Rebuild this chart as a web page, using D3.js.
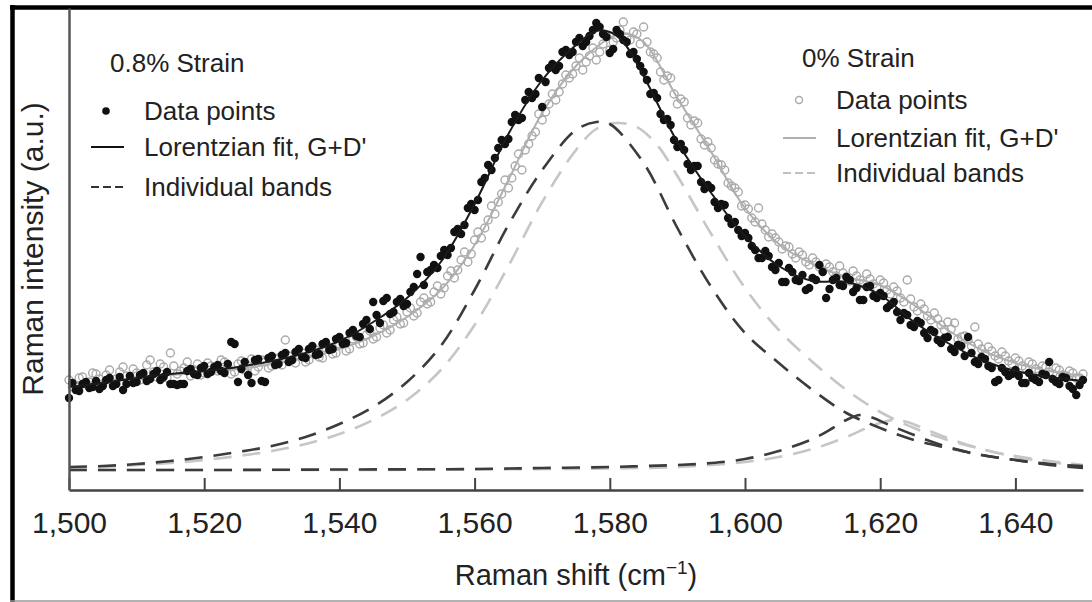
<!DOCTYPE html>
<html><head><meta charset="utf-8">
<script src="https://cdn.jsdelivr.net/npm/d3@7"></script>
<style>
body{margin:0;background:#fff}
svg{display:block}
text{font-family:"Liberation Sans",Arial,Helvetica,sans-serif;fill:#222}
</style>
</head><body>
<svg id="chart" width="1092" height="602"></svg>
<script>
// ---------- data (Raman shift in cm^-1, intensity in a.u.) ----------
const sampleStart = 1500;     // shift of the first data point
const sampleStep = 1;         // spacing of the data points
const halfOffset = 0.5;       // second, interleaved set of data points
const xTicks = [1500, 1520, 1540, 1560, 1580, 1600, 1620, 1640];

// 0.8% strain data points (1500, 1501, ...)
const strainPoints = [72,80,86,82,89,84,92,86,80,94,88,97,91,99,93,86,85,86,101,95,
  104,98,105,97,128,88,108,87,111,88,114,106,117,110,121,112,124,116,128,121,
  133,127,140,133,150,168,147,172,158,171,166,183,213,198,205,214,215,238,236,262,
  260,288,305,312,330,331,355,352,378,376,363,402,400,418,415,428,424,434,447,436,
  417,440,430,416,411,398,376,372,350,345,323,320,300,304,281,282,262,265,246,240,
  237,224,212,219,203,207,188,198,189,180,192,205,172,190,185,193,178,170,183,174,
  177,162,168,150,155,143,147,132,138,127,133,118,124,133,108,113,104,88,102,94,
  100,87,97,90,96,108,88,93,84,75,90];
// 0.8% strain data points (1500.5, 1501.5, ...)
const strainPointsHalf = [87,79,88,83,81,90,84,93,86,87,
  95,89,96,90,98,86,86,99,96,102,
  96,103,99,106,126,101,95,110,89,112,
  105,115,108,118,113,121,115,126,120,131,
  126,137,134,146,141,155,169,156,168,164,
  178,196,185,200,202,220,222,241,245,266,
  270,292,300,322,326,348,350,370,372,392,
  388,406,404,420,418,432,428,440,443,433,
  421,436,428,418,404,390,377,356,351,330,
  326,306,304,288,285,268,266,252,248,234,
  232,220,212,214,200,188,202,190,195,182,
  190,198,181,192,184,190,182,170,184,172,
  174,165,158,157,145,149,137,140,130,132,
  121,125,114,117,106,111,102,90,98,96,
  94,87,92,88,95,91,86,92,81,85];

// 0% strain data points (1500, 1501, ...)
const relaxedPoints = [90,84,93,88,96,86,100,91,103,89,97,94,110,93,103,117,96,102,94,106,
  97,104,99,108,96,106,100,111,103,108,104,112,130,110,115,108,118,113,122,116,
  126,119,131,126,135,131,142,137,150,146,158,154,168,166,178,176,194,192,210,208,
  230,232,250,256,276,282,304,300,326,338,350,366,370,386,392,404,400,414,410,426,
  420,432,448,430,436,443,418,412,390,392,366,368,345,347,325,322,306,300,284,278,
  265,252,262,240,236,228,224,216,218,208,212,203,206,198,204,193,199,190,196,186,
  190,180,183,172,190,163,166,154,157,145,148,147,133,130,143,121,123,114,118,109,
  112,104,108,101,104,98,102,95,99,92,96];
// 0% strain data points (1500.5, 1501.5, ...)
const relaxedPointsHalf = [83,92,86,97,91,95,87,98,94,101,
  90,105,98,106,92,104,99,108,100,95,
  107,101,110,103,98,109,104,99,110,102,
  111,105,114,107,117,110,120,112,123,117,
  128,121,133,127,139,133,145,140,153,147,
  162,157,172,168,184,182,199,200,218,216,
  238,242,264,268,290,292,316,320,334,356,
  358,376,378,395,396,412,408,422,418,434,
  428,440,432,438,426,428,416,398,394,376,
  371,352,349,331,328,310,305,287,282,264,
  261,248,246,233,232,221,223,212,215,205,
  208,199,203,194,197,189,194,186,191,182,
  187,176,179,168,171,159,161,150,151,140,
  141,131,134,124,126,116,119,111,114,106,
  109,102,106,99,103,96,100,94,97,92];

// Lorentzian fit G+D', 0.8% strain
const strainFitX = [1500,1505,1510,1515,1520,1525,1530,1535,1540,1545,1550,1555,1560,1565,1570,1575,1578,1580,1582,1585,1590,1595,1600,1605,1610,1615,1620,1625,1630,1635,1640,1645,1650];
const strainFitY = [83,87,92,96,99,103,109,117,129,148,172,208,266,336,390,425,439,438,428,394,328,277,234,204,189,188,175,148,127,110,99,93,89];

// Lorentzian fit G+D', 0% strain
const relaxedFitX = [1500,1505,1510,1515,1520,1525,1530,1535,1540,1545,1550,1555,1560,1565,1570,1575,1580,1582,1585,1590,1595,1600,1605,1610,1615,1620,1625,1630,1635,1640,1645,1650];
const relaxedFitY = [86,89,92,95,98,101,106,112,121,134,153,180,225,290,357,404,432,437,428,372,318,262,226,206,193,185,165,140,120,107,99,94];

// individual bands, 0.8% strain
const strainGX = [1500,1505,1510,1515,1520,1525,1530,1535,1540,1545,1550,1555,1560,1565,1570,1575,1578,1580,1585,1590,1595,1600,1605,1610,1615,1620,1625,1630,1635,1640,1645,1650];
const strainGY = [3,4,6,9,13,18,24,33,46,63,88,124,180,245,300,340,348,346,307,242,183,137,107,80,57,42,30,22,15,10,5,2];
const strainDX = [1500,1520,1540,1560,1570,1580,1585,1590,1595,1600,1605,1610,1613,1615,1617,1619,1621,1625,1630,1635,1640,1645,1650];
const strainDY = [0,0,0.5,1,2,3,4,5,7,11,19,31,42,50,55,52,46,35,23,15,10,6,4];

// individual bands, 0% strain
const relaxedGX = [1500,1505,1510,1515,1520,1525,1530,1535,1540,1545,1550,1555,1560,1565,1570,1575,1578,1581,1584,1587,1590,1595,1600,1605,1610,1615,1620,1625,1630,1635,1640,1645,1650];
const relaxedGY = [2,3,5,7,10,14,19,26,36,50,70,100,145,204,268,320,341,347,343,325,294,236,182,140,108,80,58,42,30,21,13,8,4];
const relaxedDX = [1500,1540,1560,1580,1590,1595,1600,1605,1610,1615,1618,1620,1622,1624,1627,1630,1635,1640,1645,1650];
const relaxedDY = [0,0,0.5,1.5,3,5,8,13,21,33,42,47,50,48,40,32,21,14,9,5];

// ---------- drawing ----------
const svg = d3.select("#chart");
const x = d3.scaleLinear().domain([1500, 1650]).range([69, 1083]);
const y = d3.scaleLinear().domain([-20, 462]).range([490, 8]);

const line = d3.line().x(d => x(d[0])).y(d => y(d[1])).curve(d3.curveCatmullRom.alpha(0.5));

// frame
svg.append("line").attr("x1", 10).attr("x2", 1092).attr("y1", 7.5).attr("y2", 7.5)
  .attr("stroke", "#000").attr("stroke-width", 4.5);
svg.append("line").attr("x1", 12.5).attr("x2", 12.5).attr("y1", 5).attr("y2", 602)
  .attr("stroke", "#000").attr("stroke-width", 4.5);
svg.append("line").attr("x1", 10).attr("x2", 1092).attr("y1", 601).attr("y2", 601)
  .attr("stroke", "#999").attr("stroke-width", 1.5);

// bands
const bands = [
  [relaxedDX, relaxedDY, "#c6c6c6"],
  [relaxedGX, relaxedGY, "#c6c6c6"],
  [strainDX, strainDY, "#3c3c3c"],
  [strainGX, strainGY, "#3c3c3c"]
];
bands.forEach(([bx, by, col]) => {
  svg.append("path").datum(d3.zip(bx, by)).attr("d", line)
    .attr("fill", "none").attr("stroke", col).attr("stroke-width", 2.6)
    .attr("stroke-dasharray", "18,11");
});

function toPoints(vals, offset) {
  return vals.map((v, i) => [sampleStart + offset + i * sampleStep, v]);
}

// gray data points + fit
const relaxedData = toPoints(relaxedPoints, 0).concat(toPoints(relaxedPointsHalf, halfOffset));
svg.append("g").selectAll("circle").data(relaxedData).join("circle")
  .attr("cx", d => x(d[0])).attr("cy", d => y(d[1])).attr("r", 4)
  .attr("fill", "none").attr("stroke", "#aaaaaa").attr("stroke-width", 1.4);
svg.append("path").datum(d3.zip(relaxedFitX, relaxedFitY)).attr("d", line)
  .attr("fill", "none").attr("stroke", "#b0b0b0").attr("stroke-width", 2);

// black data points + fit
const strainData = toPoints(strainPoints, 0).concat(toPoints(strainPointsHalf, halfOffset));
svg.append("g").selectAll("circle").data(strainData).join("circle")
  .attr("cx", d => x(d[0])).attr("cy", d => y(d[1])).attr("r", 4.2)
  .attr("fill", "#111");
svg.append("path").datum(d3.zip(strainFitX, strainFitY)).attr("d", line)
  .attr("fill", "none").attr("stroke", "#1a1a1a").attr("stroke-width", 2);

// axes
const xAxis = svg.append("g").attr("transform", "translate(0,490)")
  .call(d3.axisBottom(x).tickValues(xTicks).tickFormat(d3.format(","))
    .tickSizeInner(-12).tickSizeOuter(0).tickPadding(22));
xAxis.select(".domain").attr("stroke", "#444").attr("stroke-width", 2.5);
xAxis.selectAll(".tick line").attr("stroke", "#444").attr("stroke-width", 2);
xAxis.selectAll(".tick text").attr("font-size", 30).attr("fill", "#222")
  .attr("font-family", "Liberation Sans, Arial, sans-serif");

const yAxis = svg.append("g").attr("transform", "translate(69,0)")
  .call(d3.axisLeft(y).tickValues([]).tickSizeOuter(0));
yAxis.select(".domain").attr("stroke", "#555").attr("stroke-width", 2.5);

svg.append("text").attr("x", 576).attr("y", 585).attr("text-anchor", "middle")
  .attr("font-size", 29)
  .html('Raman shift (cm<tspan dy="-11" font-size="19">−1</tspan><tspan dy="11">)</tspan>');
svg.append("text").attr("transform", "translate(43,249) rotate(-90)")
  .attr("text-anchor", "middle").attr("font-size", 30).text("Raman intensity (a.u.)");

// legends
function legend(x0, titleY, rowY, title, dark) {
  const g = svg.append("g");
  const col = dark ? "#111" : "#b0b0b0";
  g.append("text").attr("x", x0 + 19).attr("y", titleY).attr("font-size", 26).text(title);
  if (dark) g.append("circle").attr("cx", x0 + 15).attr("cy", rowY[0]).attr("r", 3.8).attr("fill", col);
  else g.append("circle").attr("cx", x0 + 16).attr("cy", rowY[0]).attr("r", 3.5)
    .attr("fill", "none").attr("stroke", "#aaa").attr("stroke-width", 1.4);
  g.append("line").attr("x1", x0).attr("x2", x0 + 33).attr("y1", rowY[1]).attr("y2", rowY[1])
    .attr("stroke", col).attr("stroke-width", 2);
  g.append("line").attr("x1", x0).attr("x2", x0 + 33).attr("y1", rowY[2]).attr("y2", rowY[2])
    .attr("stroke", dark ? "#333" : "#c0c0c0").attr("stroke-width", 2).attr("stroke-dasharray", "8,4");
  const labels = ["Data points", "Lorentzian fit, G+D'", "Individual bands"];
  labels.forEach((t, i) => g.append("text").attr("x", x0 + 53).attr("y", rowY[i] + 9)
    .attr("font-size", 26).text(t));
}
legend(91, 72, [111, 147, 187], "0.8% Strain", true);
legend(783, 67, [100, 138, 173], "0% Strain", false);
</script>
</body></html>
